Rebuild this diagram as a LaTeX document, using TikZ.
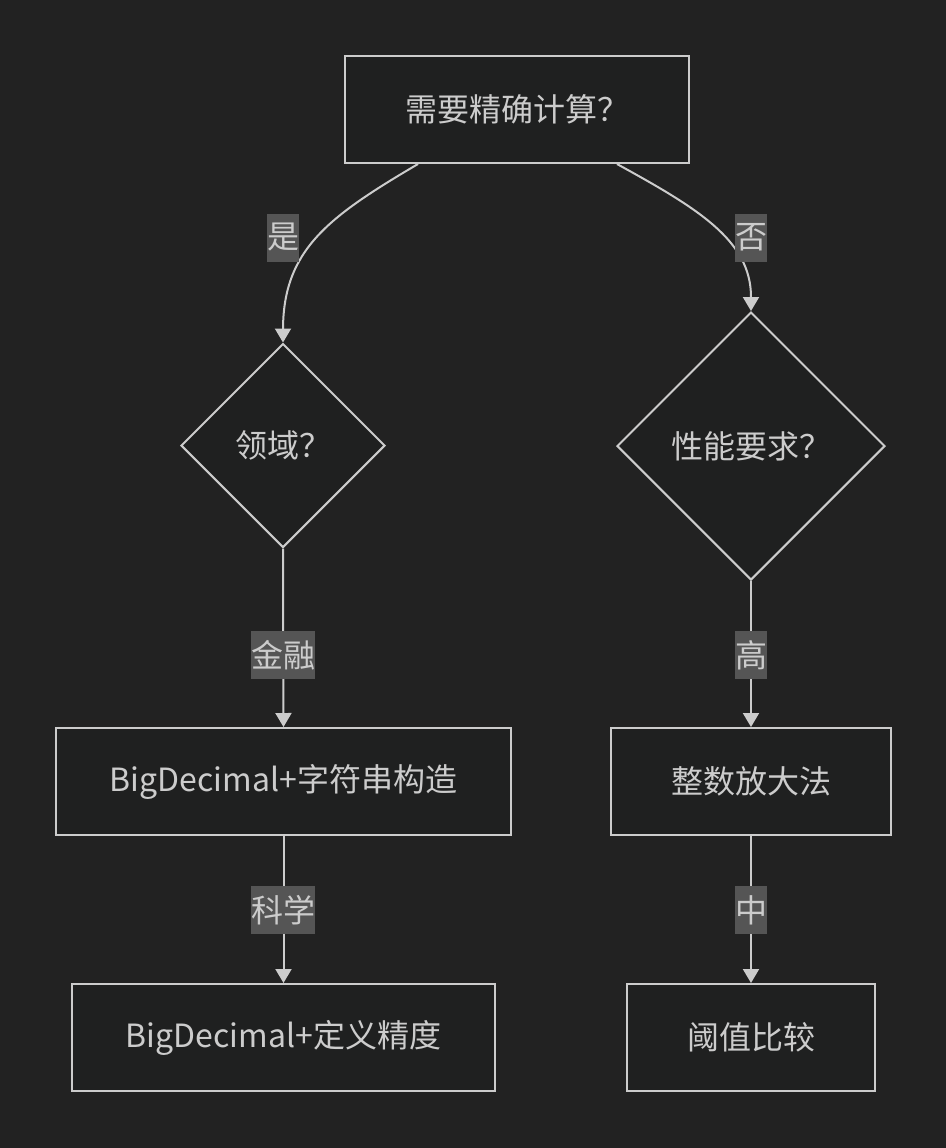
\documentclass[tikz,border=0pt]{standalone}
\usepackage{fontspec}
\setmainfont{Noto Sans CJK SC}
\usetikzlibrary{shapes.geometric,arrows.meta}
\definecolor{bgdark}{HTML}{222222}
\definecolor{nodefill}{HTML}{1F2020}
\definecolor{linegray}{HTML}{CCCCCC}
\definecolor{labelgray}{HTML}{555555}
\tikzstyle{b} = [draw=linegray, line width=1pt, fill=nodefill, text=linegray, rectangle, minimum height=53.5pt]

\begin{document}
\begin{tikzpicture}[x=0.5pt,y=-0.5pt,font=\fontsize{16pt}{19pt}\selectfont,
		d/.style = {draw=linegray, line width=1pt, fill=nodefill, text=linegray, diamond, aspect=1, inner sep=0pt},
		lbl/.style = {fill=labelgray, text=linegray, inner sep=0pt, minimum height=24pt},
		arr/.style = {draw=linegray, line width=1pt, -{Triangle[width=8pt,length=7pt]}}]
		\fill[bgdark] (0,0) rectangle (946,1148);
		\node (exact) [b, minimum width=172pt] at (517,109.5) {需要精确计算？};
		\node (domain) [d, minimum width=102pt, minimum height=102pt] at (283,445.5) {领域？};
		\node (perf) [d, minimum width=134pt, minimum height=134pt] at (751,446) {性能要求？};
		\node (bdstr) [b, minimum width=227.5pt] at (283.5,781.5) {BigDecimal+字符串构造};
		\node (scale) [b, minimum width=140pt] at (751,781.5) {整数放大法};
		\node (bdprec) [b, minimum width=211.5pt] at (283.5,1037.5) {BigDecimal+定义精度};
		\node (thresh) [b, minimum width=124pt] at (751,1037.5) {阈值比较};
		\draw[arr] ([xshift=-49.5pt]exact.south) .. controls (328,217) and (283,250) .. (283,330) -- (domain.north);
		\draw[arr] ([xshift=50pt]exact.south) .. controls (697,208) and (751,240) .. (751,297) -- (perf.north);
		\draw[arr] (domain.south) -- (bdstr.north);
		\draw[arr] (perf.south) -- (scale.north);
		\draw[arr] (bdstr.south) -- (bdprec.north);
		\draw[arr] (scale.south) -- (thresh.north);
		\node (yes) [lbl] at (283,237.5) {是};
		\node (no) [lbl] at (751,237.5) {否};
		\node (fin) [lbl] at (283,655) {金融};
		\node (high) [lbl] at (751,655) {高};
		\node (sci) [lbl] at (283,910) {科学};
		\node (mid) [lbl] at (751,910) {中};
	\end{tikzpicture}
\end{document}
